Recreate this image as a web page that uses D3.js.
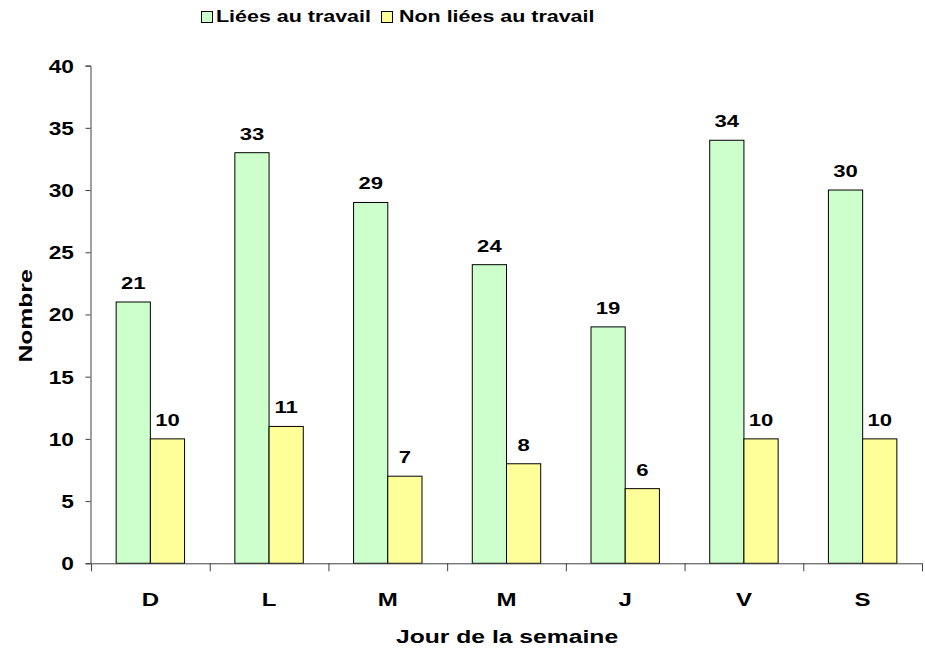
<!DOCTYPE html>
<html>
<head>
<meta charset="utf-8">
<script src="https://cdn.jsdelivr.net/npm/d3@7.9.0/dist/d3.min.js"></script>
<style>
  body { margin: 0; background: #fff; }
  text { font-family: "Liberation Sans", Arial, sans-serif; font-weight: bold; fill: #000; }
</style>
</head>
<body>
<div id="chart"></div>
<script>
const days = ["D", "L", "M", "M", "J", "V", "S"];
const liees = [21, 33, 29, 24, 19, 34, 30];
const nonLiees = [10, 11, 7, 8, 6, 10, 10];
const seriesNames = ["Liées au travail", "Non liées au travail"];
const seriesColors = ["#CCFFCC", "#FFFF99"];
const yTicks = [0, 5, 10, 15, 20, 25, 30, 35, 40];

const W = 925, H = 658;
const SX = 1.3; // text in the original is stretched horizontally

const svg = d3.select("#chart").append("svg")
    .attr("width", W)
    .attr("height", H);

const x = d3.scaleBand()
    .domain(d3.range(days.length))
    .range([91, 922])
    .paddingInner(0)
    .paddingOuter(0);

const x1 = d3.scaleBand()
    .domain([0, 1])
    .range([0, x.bandwidth()])
    .paddingInner(0)
    .paddingOuter(0.735);

const y = d3.scaleLinear()
    .domain([0, 40])
    .range([563.3, 65.6]);

function label(g, tx, ty, str, size, anchor, rot) {
    return g.append("text")
        .attr("transform", `translate(${tx},${ty})` + (rot ? ` rotate(${rot})` : "") + ` scale(${SX},1)`)
        .attr("text-anchor", anchor || "middle")
        .style("font-size", size + "px")
        .text(str);
}

// bars
const rows = days.map((d, i) => ({ i, vals: [liees[i], nonLiees[i]] }));
const groups = svg.append("g").selectAll("g")
    .data(rows)
    .join("g")
    .attr("transform", d => `translate(${x(d.i)},0)`);

groups.selectAll("rect")
    .data(d => d.vals.map((v, s) => ({ v, s })))
    .join("rect")
    .attr("x", d => x1(d.s))
    .attr("y", d => y(d.v))
    .attr("width", x1.bandwidth())
    .attr("height", d => y(0) - y(d.v))
    .attr("fill", d => seriesColors[d.s])
    .attr("stroke", "#000")
    .attr("stroke-width", 1);

groups.each(function (row) {
    const g = d3.select(this);
    row.vals.forEach((v, s) => {
        label(g, x1(s) + x1.bandwidth() / 2, y(v) - 13, v, 17, "middle");
    });
});

// y axis
const yAxis = svg.append("g")
    .attr("transform", "translate(90.5,0)")
    .call(d3.axisLeft(y).tickValues(yTicks).tickSize(5).tickFormat(""));
yAxis.selectAll("path, line").attr("stroke", "#404040");
yTicks.forEach(t => {
    label(svg, 74, y(t) + 7, t, 17.5, "end");
});

// x axis
const xAxis = svg.append("g")
    .attr("transform", `translate(0,${y(0)})`)
    .call(d3.axisBottom(x).tickValues([]).tickSizeOuter(0));
xAxis.select("path").attr("stroke", "#404040");
const bounds = d3.range(days.length + 1).map(i => i < days.length ? x(i) : x(days.length - 1) + x.bandwidth());
xAxis.selectAll("line.bound")
    .data(bounds)
    .join("line")
    .attr("class", "bound")
    .attr("x1", d => d + 0.5)
    .attr("x2", d => d + 0.5)
    .attr("y1", 0)
    .attr("y2", 8)
    .attr("stroke", "#404040");

days.forEach((d, i) => {
    label(svg, x(i) + x.bandwidth() / 2, 606, d, 18.5, "middle");
});

// axis titles
label(svg, 507, 643, "Jour de la semaine", 19, "middle");
label(svg, 32, 316, "Nombre", 19, "middle", -90);

// legend
const legendX = [201, 381];
const legendTextX = [216, 399];
seriesNames.forEach((name, s) => {
    svg.append("rect")
        .attr("x", legendX[s] + 0.5)
        .attr("y", 11.5)
        .attr("width", 11)
        .attr("height", 11)
        .attr("fill", seriesColors[s])
        .attr("stroke", "#000");
    label(svg, legendTextX[s], 22, name, 16.5, "start");
});
</script>
</body>
</html>
